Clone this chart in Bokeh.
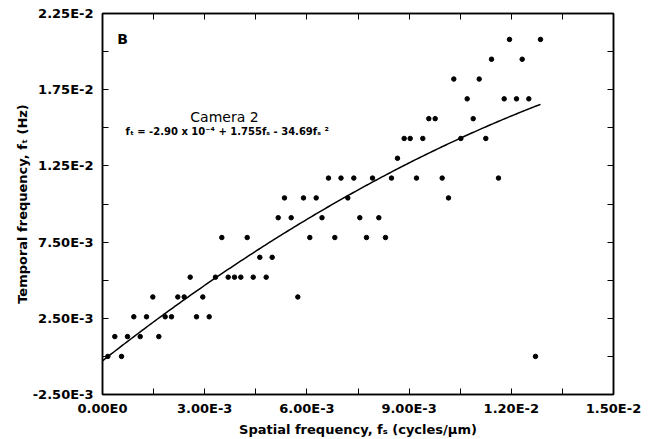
from bokeh.plotting import figure
from bokeh.models import FixedTicker, LinearAxis, Label, Range1d
from bokeh.embed import file_html
from bokeh.resources import INLINE
import numpy as np

# ---- data (spatial frequency fs, temporal frequency ft) ----
fs = [0.000156, 0.000558, 0.012710,
      0.000361, 0.000734, 0.001107, 0.001653,
      0.000919, 0.001292, 0.001840, 0.002025, 0.002759, 0.003132,
      0.001477, 0.002210, 0.002398, 0.002944, 0.005733,
      0.002574, 0.003317, 0.003690, 0.003875, 0.004060, 0.004424, 0.004805,
      0.004617, 0.004981,
      0.003502, 0.004248, 0.006085, 0.006819, 0.007749, 0.008307,
      0.005158, 0.005539, 0.006443, 0.007553, 0.008111,
      0.005342, 0.005900, 0.006273, 0.007201, 0.010157,
      0.006634, 0.007001, 0.007377, 0.007926, 0.008483, 0.009217, 0.009971, 0.011624,
      0.008659,
      0.008856, 0.009032, 0.009402, 0.010518, 0.011251,
      0.009578, 0.009766, 0.010882,
      0.010705, 0.011791, 0.012153, 0.012514,
      0.010312, 0.011058,
      0.011419, 0.012320,
      0.011947, 0.012857]
ft = [0.0, 0.0, 0.0,
      0.0013, 0.0013, 0.0013, 0.0013,
      0.0026, 0.0026, 0.0026, 0.0026, 0.0026, 0.0026,
      0.0039, 0.0039, 0.0039, 0.0039, 0.0039,
      0.0052, 0.0052, 0.0052, 0.0052, 0.0052, 0.0052, 0.0052,
      0.0065, 0.0065,
      0.0078, 0.0078, 0.0078, 0.0078, 0.0078, 0.0078,
      0.0091, 0.0091, 0.0091, 0.0091, 0.0091,
      0.0104, 0.0104, 0.0104, 0.0104, 0.0104,
      0.0117, 0.0117, 0.0117, 0.0117, 0.0117, 0.0117, 0.0117, 0.0117,
      0.0130,
      0.0143, 0.0143, 0.0143, 0.0143, 0.0143,
      0.0156, 0.0156, 0.0156,
      0.0169, 0.0169, 0.0169, 0.0169,
      0.0182, 0.0182,
      0.0195, 0.0195,
      0.0208, 0.0208]

# fit coefficients: ft = c0 + c1*fs + c2*fs^2
fit_coef = [-2.90e-4, 1.755, -34.69]

x_tick_vals = [0.0, 0.0015, 0.003, 0.0045, 0.006, 0.0075, 0.009, 0.0105, 0.012, 0.0135, 0.015]
x_tick_labels = ["0.00E0", "", "3.00E-3", "", "6.00E-3", "", "9.00E-3", "", "1.20E-2", "", "1.50E-2"]
y_tick_vals = [-0.0025, 0.0, 0.0025, 0.005, 0.0075, 0.01, 0.0125, 0.015, 0.0175, 0.02, 0.0225]
y_tick_labels = ["-2.50E-3", "", "2.50E-3", "", "7.50E-3", "", "1.25E-2", "", "1.75E-2", "", "2.25E-2"]

x_label = "Spatial frequency, f\u209b (cycles/\u03bcm)"
y_label = "Temporal frequency, f\u209c (Hz)"
panel_text = "B"
camera_text = "Camera 2"
eq_text = "f\u209c = -2.90 x 10\u207b\u2074 + 1.755f\u209b - 34.69f\u209b \u00b2"

FONT = "DejaVu Sans"
X0, X1 = 0.0, 0.015
Y0, Y1 = -0.0025, 0.0225

p = figure(width=652, height=439, output_backend="svg", toolbar_location=None,
           x_range=Range1d(X0, X1), y_range=Range1d(Y0, Y1),
           min_border_left=102, min_border_right=39, min_border_top=13, min_border_bottom=45)
p.xgrid.visible = False
p.ygrid.visible = False
p.outline_line_color = "black"
p.outline_line_width = 1.5
p.background_fill_color = "white"
p.border_fill_color = "white"

def style_axis(ax, ticks, labels, show_labels):
    ax.ticker = FixedTicker(ticks=ticks, minor_ticks=[])
    ax.major_label_overrides = {t: l for t, l in zip(ticks, labels)}
    ax.major_tick_in = 6
    ax.major_tick_out = 0
    ax.minor_tick_line_color = None
    ax.major_tick_line_color = "black"
    ax.major_tick_line_width = 1
    ax.axis_line_color = "black"
    ax.axis_line_width = 1.5
    ax.major_label_text_font = FONT
    ax.major_label_text_font_style = "bold"
    ax.major_label_text_font_size = "13px"
    ax.major_label_text_color = "black"
    if not show_labels:
        ax.major_label_text_font_size = "0px"
        ax.major_label_standoff = 0
        ax.major_label_text_alpha = 0

xa = p.xaxis[0]
style_axis(xa, x_tick_vals, x_tick_labels, True)
xa.major_label_standoff = 6
xa.axis_label = x_label
xa.axis_label_standoff = 3
xa.axis_label_text_font = FONT
xa.axis_label_text_font_style = "bold"
xa.axis_label_text_font_size = "13px"
xa.axis_label_text_color = "black"

ya = p.yaxis[0]
style_axis(ya, y_tick_vals, y_tick_labels, True)
ya.major_label_standoff = 9
ya.axis_label = y_label
ya.axis_label_standoff = 0
ya.axis_label_text_font = FONT
ya.axis_label_text_font_style = "bold"
ya.axis_label_text_font_size = "13px"
ya.axis_label_text_color = "black"

top = LinearAxis()
style_axis(top, x_tick_vals, x_tick_labels, False)
p.add_layout(top, "above")
right = LinearAxis()
style_axis(right, y_tick_vals, y_tick_labels, False)
p.add_layout(right, "right")

# data points
p.scatter(fs, ft, size=4.5, color="black")

# fitted curve
xs = np.linspace(0.0, max(fs), 200)
ys = fit_coef[0] + fit_coef[1] * xs + fit_coef[2] * xs ** 2
p.line(xs, ys, line_color="black", line_width=1.5)

# annotations
p.add_layout(Label(x=0.00043, y=0.02085, text=panel_text, text_font=FONT,
                   text_font_style="bold", text_font_size="14px", text_color="black",
                   text_baseline="alphabetic"))
p.add_layout(Label(x=0.00358, y=0.01568, text=camera_text, text_font=FONT,
                   text_font_size="14px", text_align="center", text_color="black",
                   text_baseline="alphabetic"))
p.add_layout(Label(x=0.00366, y=0.01475, text=eq_text, text_font=FONT,
                   text_font_style="bold", text_font_size="10px", text_align="center",
                   text_color="black", text_baseline="alphabetic"))

open("out.html", "w").write(file_html(p, INLINE))
